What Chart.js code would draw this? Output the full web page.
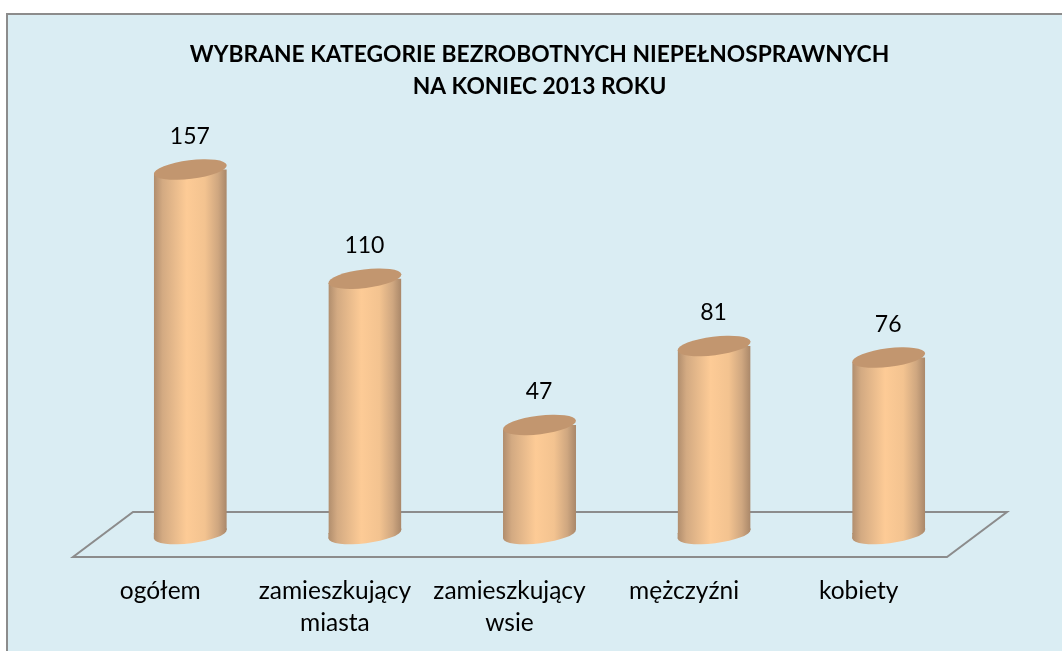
<!DOCTYPE html>
<html lang="pl">
<head>
<meta charset="utf-8">
<script src="https://cdn.jsdelivr.net/npm/chart.js@4"></script>
<style>
  html, body { margin: 0; padding: 0; background: #ffffff; }
  #box { width: 1062px; height: 651px; }
</style>
</head>
<body>
<div id="box"><canvas id="barChart" width="1062" height="651"></canvas></div>
<script>
const categories = [["ogółem"], ["zamieszkujący", "miasta"], ["zamieszkujący", "wsie"], ["mężczyźni"], ["kobiety"]];
const values = [157, 110, 47, 81, 76];
const titleLines = ["WYBRANE KATEGORIE BEZROBOTNYCH NIEPEŁNOSPRAWNYCH", "NA KONIEC 2013 ROKU"];

const fontName = "Lato, 'Open Sans', sans-serif";
const barWidth = 73;
const slant = 4.5;

function side_gradient(ctx, x) {
    const g = ctx.createLinearGradient(x - barWidth / 2, 0, x + barWidth / 2, 0);
    g.addColorStop(0, "#b08d6d");
    g.addColorStop(0.12, "#d3aa82");
    g.addColorStop(0.45, "#fdcb96");
    g.addColorStop(0.7, "#f3c390");
    g.addColorStop(0.88, "#cfa780");
    g.addColorStop(1, "#a98769");
    return g;
}

function tilted_ellipse(ctx, x, y) {
    ctx.beginPath();
    ctx.ellipse(x, y, barWidth / 2 + 0.2, 9.3, -7 * Math.PI / 180, 0, Math.PI * 2);
}

// frame, floor and the bottom caps go under the bars
const scenePlugin = {
    id: "scene",
    beforeDraw(chart) {
        const ctx = chart.ctx;
        ctx.save();
        ctx.fillStyle = "#daedf3";
        ctx.fillRect(7, 14, 1060, 660);
        ctx.strokeStyle = "#8c8c8c";
        ctx.lineWidth = 2;
        ctx.strokeRect(7, 14, 1060, 660);
        ctx.restore();
    },
    beforeDatasetsDraw(chart) {
        const ctx = chart.ctx;
        const x = chart.scales.x;
        const base = chart.scales.y.getPixelForValue(0);
        ctx.save();
        ctx.strokeStyle = "#8c8c8c";
        ctx.lineWidth = 2;
        ctx.beginPath();
        ctx.moveTo(x.left - 30, base + 23);
        ctx.lineTo(x.right - 29, base + 23);
        ctx.lineTo(x.right + 31, base - 22);
        ctx.lineTo(x.left + 30, base - 22);
        ctx.closePath();
        ctx.stroke();
        chart.getDatasetMeta(0).data.forEach(bar => {
            ctx.fillStyle = side_gradient(ctx, bar.x);
            tilted_ellipse(ctx, bar.x, base);
            ctx.fill();
            // fill the corner between the flat bar foot and the slanted cap
            ctx.beginPath();
            ctx.moveTo(bar.x - barWidth / 2, base - 1);
            ctx.lineTo(bar.x - barWidth / 2, base + slant);
            ctx.lineTo(bar.x + barWidth / 2, base - slant);
            ctx.lineTo(bar.x + barWidth / 2, base - slant - 1);
            ctx.closePath();
            ctx.fill();
        });
        ctx.restore();
        // cut the flat bar ends along the slant of the caps
        ctx.save();
        ctx.beginPath();
        chart.getDatasetMeta(0).data.forEach(bar => {
            ctx.moveTo(bar.x - barWidth / 2, bar.y + slant);
            ctx.lineTo(bar.x + barWidth / 2, bar.y - slant);
            ctx.lineTo(bar.x + barWidth / 2, base - slant);
            ctx.lineTo(bar.x - barWidth / 2, base + slant);
            ctx.closePath();
        });
        ctx.clip();
    },
    afterDatasetsDraw(chart) {
        const ctx = chart.ctx;
        ctx.restore();
        ctx.save();
        chart.getDatasetMeta(0).data.forEach((bar, i) => {
            tilted_ellipse(ctx, bar.x, bar.y);
            ctx.fillStyle = "#c2966f";
            ctx.fill();
            ctx.fillStyle = "#000000";
            ctx.font = "23px " + fontName;
            ctx.textAlign = "center";
            ctx.textBaseline = "middle";
            ctx.fillText(values[i], bar.x - 0.5, bar.y - 33);
        });
        ctx.restore();
    }
};

new Chart(document.getElementById("barChart"), {
    type: "bar",
    data: {
        labels: categories,
        datasets: [{
            data: values,
            borderWidth: 0,
            barPercentage: 1,
            categoryPercentage: 0.418,
            backgroundColor(c) {
                const x = c.chart.scales.x.getPixelForValue(c.dataIndex);
                if (!Number.isFinite(x)) return "#fdcb96";
                return side_gradient(c.chart.ctx, x);
            }
        }]
    },
    options: {
        responsive: false,
        animation: false,
        layout: { padding: { left: 103, right: 86, top: 0, bottom: 0 } },
        scales: {
            x: {
                grid: { display: false, drawTicks: false },
                border: { display: false },
                ticks: {
                    autoSkip: false,
                    maxRotation: 0,
                    minRotation: 0,
                    padding: 41,
                    labelOffset: -30,
                    color: "#000000",
                    font: { family: fontName, size: 24.5, lineHeight: 1.3 }
                },
                afterFit(scale) { scale.height = 117; }
            },
            y: { display: false, min: 0, max: 183 }
        },
        plugins: {
            legend: { display: false },
            tooltip: { enabled: false },
            title: {
                display: true,
                text: titleLines,
                color: "#000000",
                font: { family: fontName, size: 22.8, weight: "bold", lineHeight: 1.43 },
                padding: { top: 38, bottom: 6 }
            }
        }
    },
    plugins: [scenePlugin]
});
</script>
</body>
</html>
